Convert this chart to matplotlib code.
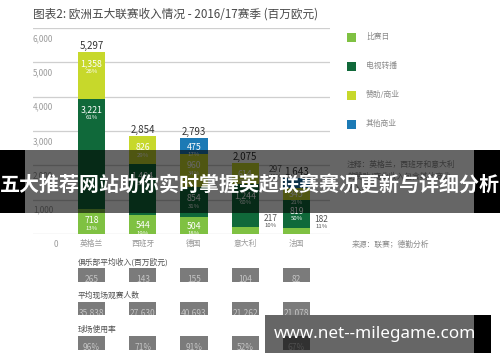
import matplotlib
matplotlib.use("Agg")
import matplotlib.pyplot as plt
from matplotlib.patches import Rectangle

plt.rcParams['font.family'] = ['Noto Sans CJK SC', 'DejaVu Sans']

# ---------------- data ----------------
countries = ['英格兰', '西班牙', '德国', '意大利', '法国']
matchday = [718, 544, 504, 217, 182]
broadcast = [3221, 1484, 854, 1244, 819]
sponsor = [1358, 826, 960, 614, 345]
other = [0, 0, 475, 0, 297]
totals = [5297, 2854, 2793, 2075, 1643]
matchday_pct = [13, 19, 18, 10, 11]
broadcast_pct = [61, 52, 31, 60, 50]
sponsor_pct = [26, 29, 34, 30, 21]
other_pct = [0, 0, 17, 0, 18]
yticks = [0, 1000, 2000, 3000, 4000, 5000, 6000]
ytick_labels = ['0', '1,000', '2,000', '3,000', '4,000', '5,000', '6,000']

series_names = ['比赛日', '电视转播', '赞助/商业', '其他商业']

avg_revenue = ['265', '143', '155', '104', '82']
avg_attendance = ['35,838', '27,630', '40,693', '21,262', '21,078']
utilization = ['96%', '71%', '91%', '52%', '67%']
table_titles = ['俱乐部平均收入(百万欧元)', '平均现场观赛人数', '球场使用率']

title = '图表2: 欧洲五大联赛收入情况 - 2016/17赛季 (百万欧元)'
note_lines = ['注释：英格兰，西班牙和意大利', '的赞助/商业收入包含其他商业', '收入。']
source = '来源：联赛；德勤分析'
banner = '五大推荐网站助你实时掌握英超联赛赛况更新与详细分析'
site = 'www.net--milegame.com'

colors = ['#7fc142', '#10693a', '#c7d82b', '#1c7ab5']

W, H = 500, 362
fig = plt.figure(figsize=(W / 100, H / 100), dpi=100)
fig.patch.set_facecolor('white')


def fx(x):
    return x / W


def fy(y):
    return 1 - y / H


def pt(p):
    return p * 0.72


# ---------------- main chart ----------------
ax_left, ax_right = 33, 330
ax_top, ax_bot = 28, 234
ax = fig.add_axes([fx(ax_left), fy(ax_bot), (ax_right - ax_left) / W, (ax_bot - ax_top) / H])
spacing = 51.25
x0 = -(91.5 - ax_left) / spacing
xlim = (x0, x0 + (ax_right - ax_left) / spacing)
ax.set_xlim(*xlim)
ax.set_ylim(0, 6000)
ax.axis('off')
pxu = (ax_bot - ax_top) / 6000.0  # pixels per unit

for t, lab in zip(yticks, ytick_labels):
    ax.axhline(t, color='#cfcfcf', lw=0.9, zorder=0)
    if t == 0:
        ax.annotate(lab, xy=(x0, t), xytext=(pt(21), pt(-6)), textcoords='offset points',
                    ha='left', va='top', fontsize=5.8, color='#9a9a9a')
    else:
        ax.annotate(lab, xy=(x0, t), xytext=(0, pt(-6)), textcoords='offset points',
                    ha='left', va='top', fontsize=5.8, color='#9a9a9a')

xs = list(range(len(countries)))
bw = 0.53
stack = [matchday, broadcast, sponsor, other]
pcts = [matchday_pct, broadcast_pct, sponsor_pct, other_pct]
bottoms = [0] * len(countries)
for si, (vals, pc) in enumerate(zip(stack, pcts)):
    ax.bar(xs, vals, bw, bottom=bottoms, color=colors[si], zorder=2, linewidth=0)
    for i, (v, p) in enumerate(zip(vals, pc)):
        if v <= 0:
            continue
        top = bottoms[i] + v
        hpx = v * pxu
        vtxt = f'{v:,}'
        ptxt = f'{p}%'
        if v < 300:
            if si == 3:
                dx = -0.4
            else:
                dx = 0.49
            ax.annotate(vtxt, xy=(i + dx, top), xytext=(0, pt(8)), textcoords='offset points',
                        ha='center', va='center', fontsize=6.0, color='#555555', zorder=3)
            ax.annotate(ptxt, xy=(i + dx, top), xytext=(0, pt(1)), textcoords='offset points',
                        ha='center', va='center', fontsize=4.3, color='#555555', zorder=3)
        else:
            off = min(hpx / 2 + 1, 11.5)
            ax.annotate(vtxt, xy=(i, top), xytext=(0, -pt(off)), textcoords='offset points',
                        ha='center', va='center', fontsize=6.3, color='white', zorder=3)
            ax.annotate(ptxt, xy=(i, top), xytext=(0, -pt(off + 7.5)), textcoords='offset points',
                        ha='center', va='center', fontsize=4.3, color='white', zorder=3)
    bottoms = [b + v for b, v in zip(bottoms, vals)]

for i, t in enumerate(totals):
    ax.annotate(f'{t:,}', xy=(i, t), xytext=(0, pt(1)), textcoords='offset points',
                ha='center', va='bottom', fontsize=7, color='#333333', zorder=3)
    ax.annotate(countries[i], xy=(i, 0), xytext=(0, pt(-10)), textcoords='offset points',
                ha='center', va='center', fontsize=5.6, color='#9a9a9a')

# ---------------- title ----------------
fig.text(fx(33), fy(14), title, fontsize=8.4, color='#484848', ha='left', va='center')

# ---------------- legend ----------------
leg_y = [37, 66, 95, 124]
for c, n, y in zip(colors, series_names, leg_y):
    fig.add_artist(Rectangle((fx(347), fy(y + 4.5)), 9 / W, 9 / H, transform=fig.transFigure,
                             facecolor=c, edgecolor='none'))
    fig.text(fx(366), fy(y), n, fontsize=5.6, color='#8a8a8a', ha='left', va='center')

for k, line in enumerate(note_lines):
    fig.text(fx(347), fy(165 + k * 12), line, fontsize=5.6, color='#8a8a8a', ha='left', va='center')
fig.text(fx(352), fy(245), source, fontsize=5.6, color='#8a8a8a', ha='left', va='center')

# ---------------- bottom tables ----------------
tables = [avg_revenue, avg_attendance, utilization]
title_y = [262, 296, 330]
box_y = [(268, 282), (302, 315), (336, 350)]
for tt, ty, (b0, b1), vals in zip(table_titles, title_y, box_y, tables):
    fig.text(fx(78), fy(ty), tt, fontsize=5.6, color='#505050', ha='left', va='center')
    tax = fig.add_axes([fx(ax_left), fy(b1), (ax_right - ax_left) / W, (b1 - b0) / H])
    tax.set_xlim(*xlim)
    tax.set_ylim(0, 1)
    tax.axis('off')
    tax.bar(xs, [1] * len(vals), bw, bottom=0, color='#7b7b7b', linewidth=0)
    for i, v in enumerate(vals):
        tax.text(i, 0.18, v, ha='center', va='center', fontsize=6.0, color='#c4c4c4', clip_on=True)

# ---------------- overlay banners ----------------
fig.add_artist(Rectangle((0, fy(213)), fx(25), (213 - 150) / H, transform=fig.transFigure,
                         facecolor='black', edgecolor='none', zorder=20))
fig.add_artist(Rectangle((fx(474), fy(213)), fx(26), (213 - 150) / H, transform=fig.transFigure,
                         facecolor='black', edgecolor='none', zorder=20))
fig.add_artist(Rectangle((fx(25), fy(213)), fx(449), (213 - 150) / H, transform=fig.transFigure,
                         facecolor='black', alpha=0.6, edgecolor='none', zorder=20))
fig.text(0.5, fy(184), banner, fontsize=14.4, fontweight='bold', color='white',
         ha='center', va='center', zorder=21)

fig.add_artist(Rectangle((fx(265), fy(353)), fx(209), (353 - 315) / H, transform=fig.transFigure,
                         facecolor='black', alpha=0.6, edgecolor='none', zorder=20))
fig.add_artist(Rectangle((fx(474), fy(353)), fx(17), (353 - 315) / H, transform=fig.transFigure,
                         facecolor='black', edgecolor='none', zorder=20))
fig.text(fx(375), fy(334), site, fontsize=12.3, fontweight='bold', color='white',
         family=['Noto Sans', 'DejaVu Sans'], ha='center', va='center', zorder=21)

fig.savefig('out.png', dpi=100, facecolor='white')
